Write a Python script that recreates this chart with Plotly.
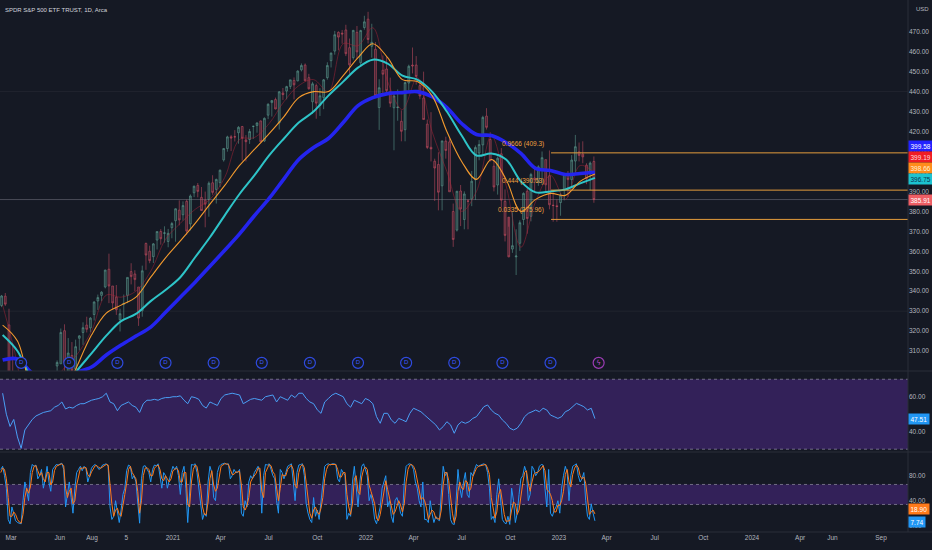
import pandas as pd
import plotly.graph_objects as go
from plotly.subplots import make_subplots

TITLE = 'SPDR S&P 500 ETF TRUST, 1D, Arca'

# weekly candles (Feb 2020 .. 10 Mar 2023)
wk_open = [
    # 2020
    332.8, 337.5, 323.1, 298.2, 288.0, 241.2, 231.0, 250.7, 257.8, 277.1, 279.1, 285.1, 280.7, 290.3, 293.1, 302.5,
    303.6, 320.2, 298.0, 307.8, 300.9, 316.4, 319.3, 323.0, 321.6, 328.3, 335.1, 337.9, 342.1, 351.0, 342.6, 337.0,
    325.7, 333.4, 337.9, 349.8, 348.6, 342.1, 330.2, 363.9, 360.0, 357.3, 365.6, 369.9, 369.0, 364.9, 371.8,
    # 2021
    375.3, 380.6, 378.3, 385.0, 373.7, 389.3, 393.0, 387.0, 385.6, 385.9, 394.3, 391.0, 394.4, 405.8, 411.5, 417.4,
    417.4, 419.4, 422.5, 415.8, 416.0, 422.6, 423.0, 425.3, 415.3, 428.2, 434.5, 436.0, 424.3, 439.3, 440.3, 442.6,
    445.6, 445.4, 450.9, 453.3, 447.0, 434.9, 443.0, 433.0, 437.0, 447.0, 455.5, 460.3, 469.7, 469.3, 470.9, 462.0,
    457.0, 469.7, 454.5, 472.1,
    # 2022
    476.3, 462.7, 461.2, 432.0, 450.7, 451.3, 439.9, 431.9, 432.0, 425.1, 420.9, 444.3, 453.3, 453.3, 443.0, 436.8,
    423.7, 412.1, 405.1, 403.5, 392.8, 415.2, 414.8, 379.9, 370.6, 390.2, 375.9, 385.2, 386.2, 395.8, 409.2, 413.3,
    427.7, 416.0, 402.6, 393.2, 408.8, 385.0, 377.1, 361.1, 357.2, 364.0, 375.9, 390.1, 377.5, 396.7, 394.6, 400.9,
    405.9, 397.8, 383.1, 382.8,
    # 2023
    384.4, 390.4, 398.5, 395.9, 405.2, 409.8, 408.7, 403.1, 399.9, 405.0,
]
wk_high = [
    338.1, 339.1, 331.2, 313.8, 290.4, 256.4, 263.3, 262.4, 281.2, 287.3, 285.0, 294.9, 293.0, 294.6, 298.1, 305.3,
    321.3, 323.4, 316.5, 314.5, 315.7, 318.0, 324.4, 327.2, 327.0, 334.9, 338.3, 340.0, 350.7, 358.8, 342.6, 343.1,
    331.2, 338.3, 347.0, 354.0, 350.5, 342.1, 352.8, 364.4, 362.8, 364.1, 369.9, 371.1, 372.5, 371.2, 374.7,
    381.5, 385.5, 385.0, 385.9, 388.5, 392.9, 394.2, 392.2, 389.9, 395.0, 398.1, 396.4, 401.0, 411.7, 417.9, 418.3,
    420.7, 422.7, 422.8, 418.2, 421.3, 422.9, 424.6, 425.5, 427.1, 434.1, 435.8, 437.0, 440.3, 441.8, 442.9, 445.9,
    447.1, 450.7, 454.1, 454.1, 448.9, 444.9, 444.0, 441.7, 446.3, 454.7, 459.6, 470.4, 470.2, 470.9, 473.5, 466.6,
    470.9, 472.9, 471.0, 478.0,
    479.98, 474.0, 464.8, 446.2, 458.1, 457.9, 447.0, 438.8, 441.1, 430.6, 445.0, 453.5, 462.1, 457.8, 446.0, 450.0,
    426.0, 429.7, 406.4, 409.6, 415.4, 417.4, 416.6, 383.9, 390.1, 393.2, 390.0, 386.1, 400.2, 413.0, 415.7, 427.9,
    431.7, 419.6, 405.9, 407.5, 411.7, 391.0, 372.3, 379.5, 371.0, 375.5, 389.5, 391.6, 399.3, 402.3, 403.1, 410.0,
    406.0, 410.5, 389.5, 386.0,
    389.3, 399.1, 400.2, 408.2, 418.3, 414.5, 415.1, 404.1, 405.0, 407.5,
]
wk_low = [
    332.0, 332.6, 285.5, 293.2, 240.0, 228.0, 218.3, 242.4, 255.9, 270.6, 271.2, 279.1, 276.0, 272.9, 292.2, 297.0,
    303.5, 296.7, 297.0, 300.0, 300.0, 310.3, 313.1, 319.3, 319.4, 325.3, 330.6, 335.0, 341.4, 334.0, 331.0, 328.1,
    319.8, 326.1, 334.0, 343.4, 340.0, 322.6, 327.2, 350.7, 354.0, 354.1, 360.9, 363.3, 364.3, 362.0, 366.5,
    364.8, 373.0, 375.4, 368.3, 370.4, 387.1, 387.0, 380.2, 372.0, 377.3, 388.3, 383.9, 392.2, 404.9, 409.9, 410.2,
    415.0, 413.9, 405.4, 405.0, 413.8, 416.3, 419.4, 414.7, 414.7, 426.2, 427.5, 431.1, 421.0, 435.8, 436.1, 441.3,
    436.1, 445.1, 450.1, 445.3, 441.0, 428.8, 426.4, 427.8, 431.2, 446.0, 452.1, 458.5, 460.7, 464.0, 457.8, 448.9,
    456.0, 456.4, 452.4, 471.0,
    464.1, 457.0, 437.8, 420.8, 439.2, 439.0, 432.2, 410.6, 425.4, 415.1, 415.1, 440.6, 449.1, 443.5, 436.2, 425.9,
    411.2, 405.0, 385.2, 380.5, 380.5, 406.4, 389.8, 362.2, 369.9, 372.6, 371.0, 371.0, 382.6, 385.7, 405.6, 408.5,
    421.0, 405.3, 390.0, 388.4, 382.1, 364.9, 357.0, 359.2, 348.1, 360.2, 373.1, 368.8, 375.0, 390.0, 392.8, 393.3,
    390.0, 381.0, 374.8, 374.8,
    377.8, 385.5, 387.3, 392.6, 399.6, 405.0, 404.1, 393.6, 390.6, 384.3,
]
wk_close = [
    337.6, 333.5, 296.3, 297.5, 269.3, 228.8, 253.4, 248.2, 278.2, 286.6, 282.9, 282.8, 292.4, 286.3, 295.4, 304.3,
    319.3, 304.2, 309.0, 300.1, 312.2, 317.6, 321.7, 320.9, 326.5, 334.6, 336.8, 339.5, 350.6, 342.6, 334.1, 330.7,
    328.7, 333.8, 346.9, 347.3, 345.8, 326.5, 350.2, 358.1, 355.3, 363.7, 369.9, 366.3, 369.2, 369.0, 373.9,
    381.3, 375.7, 382.9, 370.1, 387.7, 392.6, 390.0, 380.4, 383.6, 394.1, 389.5, 396.0, 400.6, 411.5, 417.3, 416.7,
    417.3, 422.1, 416.6, 414.9, 420.0, 422.6, 424.3, 414.9, 426.6, 433.7, 435.5, 431.3, 439.9, 438.5, 442.5, 445.9,
    443.4, 450.3, 453.1, 445.4, 441.4, 443.9, 434.2, 437.9, 445.9, 453.1, 459.3, 468.5, 467.3, 468.9, 459.0, 453.4,
    470.7, 459.9, 470.6, 474.96,
    466.1, 464.7, 437.98, 441.95, 448.7, 440.5, 434.2, 437.8, 432.2, 420.1, 444.5, 452.7, 452.9, 447.6, 437.8, 426.0,
    412.0, 411.3, 401.7, 389.6, 415.3, 410.5, 389.8, 365.9, 390.1, 381.2, 388.7, 385.1, 395.1, 411.99, 413.5, 427.1,
    422.1, 405.3, 392.2, 406.6, 385.6, 367.95, 357.2, 362.8, 357.6, 374.3, 389.0, 376.4, 398.5, 396.0, 402.3, 406.9,
    393.3, 383.3, 382.9, 382.4,
    388.1, 398.5, 395.9, 405.7, 412.4, 408.0, 407.3, 396.4, 404.2, 385.91,
]

# moving averages, read every 4 weeks
ma20 = [333, 303, 255, 283, 300, 308, 320, 338, 337, 340,
        350, 366, 374, 381, 386, 397, 416, 417, 424, 435,
        443, 446, 440, 464, 463, 472, 445, 431, 447, 420,
        400, 380, 390, 418, 393, 362, 385, 398, 386, 403, 399.19]
ma50 = [323, 315, 288, 275, 285, 302, 318, 329, 333, 337,
        347, 356.7, 365.2, 374, 383.6, 393, 403, 411, 419, 427.5,
        437, 440, 440, 448, 457, 464, 457, 446, 445, 438,
        420, 405, 396, 406, 396, 380, 386, 389, 388, 395, 398.66]
ma100 = [318, 310, 295, 285, 290, 300, 308.8, 317.7, 325, 328.6,
         335, 340.6, 347, 357, 367, 378, 388.7, 398, 408, 416.5,
         424.5, 430, 438, 445, 452, 456, 454, 448, 446, 440,
         430, 418, 408, 409, 406, 395, 389.5, 390, 391, 394, 396.75]
ma200 = [305.5, 306, 299, 297, 297.5, 299.5, 302, 308, 313, 317.5,
         322, 329.4, 337, 344.5, 352.5, 360.5, 368.7, 377.8, 386.5, 396.3,
         406, 412, 416.5, 424.5, 433, 437, 439, 439.5, 440, 437.5,
         432, 424, 418.5, 418, 414.5, 409, 401.5, 400.5, 398.5, 399, 399.58]

# RSI, one value per week
rsi = [62, 50, 43, 47, 37, 30.5, 41, 44, 47, 49,
       50, 51, 51.5, 52, 54, 55, 57, 53, 54, 53.5,
       55, 56, 56, 57, 58, 58.5, 59, 60, 62, 57,
       56, 52, 55, 56, 57, 55, 54, 51, 56, 58,
       58, 58.5, 58, 59, 59.5, 59.5, 60, 60, 60.5, 58,
       56, 60, 59.5, 58.5, 55, 53.5, 57, 56, 55, 59,
       61, 61.5, 62, 61.5, 61, 56, 57.5, 58.5, 59, 58.5,
       58, 60, 60.5, 61, 57, 60, 59, 58, 61, 59.5,
       62, 62, 59, 57, 56, 52.5, 50.5, 57, 59, 61,
       62, 61, 60, 56, 54, 58, 57, 56, 59, 58,
       56, 48.6, 44.8, 50.5, 50.5, 46.7, 44.8, 47.6, 46.7, 45.7,
       50.5, 53.4, 52.4, 51.4, 49.5, 47.6, 45.7, 43.9, 41, 42.9,
       45.7, 43.9, 39.1, 43.9, 45.7, 44.8, 45.7, 47.6, 48.6, 51.4,
       54.3, 55.3, 52.4, 50.5, 49.5, 46.7, 44.8, 42, 41, 42,
       44.8, 48.6, 50.5, 51.4, 52.4, 51.4, 53.4, 52.4, 49.5, 48.6,
       47.6, 48.6, 51.4, 52.4, 54.3, 56.2, 55.3, 54.3, 52.4, 53.4,
       47.51]

# stochastic %K / %D, two readings per week
stoch_k = [
    # 2020
    90, 95, 80, 60, 10, 3, 30, 20, 8, 5, 4, 3, 40, 70, 55, 40, 85, 98, 95, 97, 75, 80, 90, 60,
    75, 95, 70, 55, 90, 95, 98, 97, 99, 100, 90, 30, 50, 70, 45, 20, 60, 85, 90, 95, 88, 95, 92, 70,
    80, 92, 96, 98, 95, 90, 92, 97, 98, 99, 95, 30, 10, 15, 40, 20, 5, 25, 50, 60, 88, 97, 95, 75,
    80, 70, 30, 4, 75, 95, 96, 90, 85, 70, 90, 97, 96, 99, 80, 60, 85, 80, 60, 75, 85, 95,
    # 2021
    90, 95, 80, 50, 85, 95, 60, 5, 60, 98, 97, 99, 85, 60, 30, 10, 20, 15, 70, 95, 85, 45, 40, 85,
    95, 98, 99, 100, 98, 99, 75, 80, 90, 85, 85, 90, 20, 15, 40, 30, 70, 80, 75, 85, 90, 95, 85, 20,
    80, 98, 97, 99, 90, 80, 75, 40, 20, 90, 85, 75, 85, 95, 97, 99, 70, 40, 85, 97, 98, 99, 80, 35,
    20, 10, 5, 45, 15, 25, 10, 40, 65, 95, 98, 99, 97, 99, 99, 98, 75, 70, 90, 85, 80, 10, 20, 15,
    70, 95, 60, 30, 70, 95, 99, 90,
    # 2022
    80, 40, 50, 35, 10, 3, 15, 30, 60, 70, 80, 30, 40, 15, 5, 40, 45, 35, 20, 15, 70, 95, 98, 99,
    97, 90, 70, 60, 40, 30, 70, 10, 10, 5, 40, 20, 5, 15, 10, 8, 60, 95, 80, 85, 50, 10, 3, 2,
    40, 90, 60, 45, 70, 85, 50, 45, 85, 80, 90, 98, 95, 97, 98, 99, 97, 85, 60, 10, 15, 5, 50, 75,
    40, 10, 5, 3, 15, 2, 60, 40, 5, 20, 50, 75, 80, 95, 85, 40, 50, 95, 90, 80, 85, 95, 98, 97,
    60, 30, 90, 20, 15, 25, 30, 40,
    # 2023
    20, 60, 80, 95, 85, 40, 80, 95, 97, 99, 80, 70, 75, 85, 40, 15, 10, 35, 20, 7.74,
]
stoch_d = [
    # 2020
    85, 92, 90, 75, 45, 15, 15, 22, 18, 10, 6, 4, 18, 45, 60, 52, 62, 85, 95, 96, 88, 80, 85, 75,
    70, 85, 85, 65, 70, 88, 95, 97, 98, 99, 96, 60, 45, 55, 60, 35, 40, 65, 82, 92, 92, 92, 93, 82,
    78, 86, 92, 96, 96, 93, 92, 94, 96, 98, 97, 65, 35, 15, 25, 28, 18, 15, 30, 50, 68, 90, 95, 85,
    80, 75, 55, 20, 40, 80, 92, 93, 90, 80, 80, 92, 95, 97, 90, 75, 72, 80, 75, 70, 75, 88,
    # 2021
    90, 92, 88, 70, 70, 85, 85, 35, 30, 70, 90, 97, 95, 78, 60, 30, 18, 18, 38, 75, 88, 65, 55, 60,
    80, 95, 97, 99, 99, 98, 90, 82, 82, 86, 86, 87, 65, 30, 25, 32, 45, 70, 76, 80, 84, 92, 92, 55,
    45, 85, 92, 98, 96, 86, 82, 60, 40, 60, 82, 80, 80, 90, 94, 97, 90, 65, 60, 85, 95, 98, 93, 65,
    40, 20, 12, 25, 30, 22, 18, 28, 45, 75, 90, 97, 98, 98, 98, 98, 90, 78, 78, 85, 85, 50, 30, 18,
    35, 75, 80, 55, 50, 78, 90, 94,
    # 2022
    90, 65, 55, 45, 35, 12, 8, 18, 35, 58, 72, 58, 45, 30, 18, 22, 30, 40, 33, 22, 35, 70, 90, 97,
    98, 95, 88, 72, 58, 42, 45, 40, 28, 10, 18, 25, 22, 12, 12, 10, 25, 65, 85, 85, 72, 40, 20, 5,
    15, 55, 70, 60, 58, 72, 70, 55, 60, 78, 85, 92, 95, 96, 97, 98, 98, 92, 82, 45, 28, 12, 22, 50,
    58, 35, 18, 7, 8, 8, 25, 38, 35, 18, 25, 52, 68, 85, 88, 68, 55, 70, 82, 85, 85, 88, 93, 96,
    88, 58, 55, 50, 40, 22, 22, 33,
    # 2023
    32, 40, 55, 82, 90, 70, 62, 82, 92, 97, 93, 80, 75, 78, 68, 38, 18, 22, 25, 18.9,
]

# Fibonacci retracement drawn on the chart
fib_start = '2022-12-17'
fib_levels = ['0.9666', '0.444', '0.0335']
fib_prices = [409.3, 390.63, 375.96]

# dividend events
div_dates = ['2020-03-20', '2020-06-19', '2020-09-18', '2020-12-18', '2021-03-19', '2021-06-18',
             '2021-09-17', '2021-12-17', '2022-03-18', '2022-06-17', '2022-09-16', '2022-12-16']
next_div = ['2023-03-17']

# time axis labels
tick_dates = ['2020-03-01', '2020-06-01', '2020-08-01', '2020-10-05', '2021-01-01', '2021-04-01',
              '2021-07-01', '2021-10-01', '2022-01-01', '2022-04-01', '2022-07-01', '2022-10-01',
              '2023-01-01', '2023-04-01', '2023-07-01', '2023-10-01', '2024-01-01', '2024-04-01',
              '2024-06-01', '2024-09-01']
tick_text = ['Mar', 'Jun', 'Aug', '5', '2021', 'Apr', 'Jul', 'Oct', '2022', 'Apr', 'Jul', 'Oct',
             '2023', 'Apr', 'Jul', 'Oct', '2024', 'Apr', 'Jun', 'Sep']
price_ticks = list(range(310, 480, 10))

BG = '#151924'
GRID = '#2a2e39'
TXT = '#b2b5be'
FONT = 'Liberation Sans, Arial, sans-serif'
X_START, X_END = '2020-02-09', '2024-10-22'

n = min(len(wk_open), len(wk_high), len(wk_low), len(wk_close))
weeks = pd.date_range(end='2023-03-08', periods=n, freq='W-WED')


def ma_x(vals):
    return pd.date_range(end='2023-03-10', periods=len(vals), freq='28D')


fig = make_subplots(rows=3, cols=1, shared_xaxes=True, vertical_spacing=0, row_heights=[371, 81, 80])

fig.add_trace(go.Candlestick(
    x=weeks, open=wk_open[:n], high=wk_high[:n], low=wk_low[:n], close=wk_close[:n],
    increasing=dict(line=dict(color='rgba(95,160,148,0.55)', width=1), fillcolor='rgba(95,160,148,0.25)'),
    decreasing=dict(line=dict(color='rgba(200,78,98,0.55)', width=1), fillcolor='rgba(200,78,98,0.25)'),
    whiskerwidth=0, showlegend=False, hoverinfo='skip'), row=1, col=1)

for vals, color, width in [(ma20, 'rgba(170,35,55,0.5)', 1), (ma200, '#2424ee', 3.6),
                           (ma100, '#2ec4c8', 2), (ma50, '#f39a2e', 1.1)]:
    fig.add_trace(go.Scatter(x=ma_x(vals), y=vals, mode='lines', showlegend=False, hoverinfo='skip',
                             line=dict(color=color, width=width, shape='spline', smoothing=1.0)),
                  row=1, col=1)

fig.add_trace(go.Scatter(x=pd.date_range(end='2023-03-10', periods=len(rsi), freq='W-FRI'), y=rsi,
                         mode='lines', line=dict(color='#4a9ff5', width=1), showlegend=False,
                         hoverinfo='skip'), row=2, col=1)

for vals, color in [(stoch_k, '#2196f3'), (stoch_d, '#ff7a1a')]:
    fig.add_trace(go.Scatter(x=pd.date_range(end='2023-03-10', periods=len(vals), freq='84h'), y=vals,
                             mode='lines', line=dict(color=color, width=1), showlegend=False,
                             hoverinfo='skip'), row=3, col=1)

# event markers on an overlay axis at the bottom of the price pane
fig.add_trace(go.Scatter(x=div_dates, y=[0.022] * len(div_dates), xaxis='x', yaxis='y4',
                         mode='markers+text', text=['D'] * len(div_dates), textposition='middle center',
                         textfont=dict(size=6, color='#3d5afe', family=FONT),
                         marker=dict(size=11, color=BG, line=dict(color='#2f4be0', width=1.2)),
                         showlegend=False, hoverinfo='skip'))
fig.add_trace(go.Scatter(x=next_div, y=[0.022], xaxis='x', yaxis='y4',
                         mode='markers+text', text=['ϟ'], textposition='middle center',
                         textfont=dict(size=7, color='#c04fd0', family='DejaVu Sans'),
                         marker=dict(size=11, color=BG, line=dict(color='#9c3cb4', width=1.2)),
                         showlegend=False, hoverinfo='skip'))

shapes = []
# faint horizontal guides + last price line
for lvl, col in [(440, 'rgba(255,255,255,0.05)'), (330, 'rgba(255,255,255,0.05)'),
                 (wk_close[-1], 'rgba(170,170,180,0.35)')]:
    shapes.append(dict(type='line', xref='paper', x0=0, x1=1, yref='y', y0=lvl, y1=lvl,
                       line=dict(color=col, width=1), layer='below'))
# fib lines
for p in fib_prices:
    shapes.append(dict(type='line', xref='x', x0=fib_start, x1=X_END, yref='y', y0=p, y1=p,
                       line=dict(color='#e39b3c', width=1)))
# RSI band
shapes.append(dict(type='rect', xref='paper', x0=0, x1=1, yref='y2', y0=30, y1=70,
                   fillcolor='rgba(110,50,190,0.35)', line=dict(width=0), layer='below'))
for lvl in (30, 70):
    shapes.append(dict(type='line', xref='paper', x0=0, x1=1, yref='y2', y0=lvl, y1=lvl,
                       line=dict(color='rgba(190,190,205,0.5)', width=1, dash='dot'), layer='below'))
# stoch band
shapes.append(dict(type='rect', xref='paper', x0=0, x1=1, yref='y3', y0=34, y1=66,
                   fillcolor='rgba(110,50,190,0.35)', line=dict(width=0), layer='below'))
for lvl in (34, 66):
    shapes.append(dict(type='line', xref='paper', x0=0, x1=1, yref='y3', y0=lvl, y1=lvl,
                       line=dict(color='rgba(190,190,205,0.5)', width=1, dash='dot'), layer='below'))
# pane separators and price scale border
for yy in (1 - 371 / 532, 1 - 452 / 532, 0):
    shapes.append(dict(type='line', xref='paper', x0=0, x1=1.03, yref='paper', y0=yy, y1=yy,
                       line=dict(color=GRID, width=1)))
shapes.append(dict(type='line', xref='paper', x0=1, x1=1, yref='paper', y0=0, y1=1,
                   line=dict(color=GRID, width=1)))

ann = [dict(text=TITLE, xref='paper', yref='paper', x=0, y=1, xanchor='left', yanchor='top',
            xshift=3, yshift=-5, showarrow=False, font=dict(size=6, color='#d1d4dc', family=FONT)),
       dict(text='USD', xref='paper', yref='paper', x=1, y=1, xanchor='left', yanchor='top',
            xshift=6, yshift=-4, showarrow=False, font=dict(size=6, color=TXT, family=FONT))]

for lvl, p in zip(fib_levels, fib_prices):
    ann.append(dict(text=f'{lvl} ({p})', xref='x', x=fib_start, yref='y', y=p, xanchor='right',
                    yanchor='bottom', xshift=-5, yshift=3, showarrow=False,
                    font=dict(size=6.5, color='#f0a040', family=FONT)))

# last-value tags on the price scales
tags = [('y', ma200[-1], '#2222ff', 'white', 26),
        ('y', ma20[-1], '#f01c24', '#ffd8d8', 16),
        ('y', ma50[-1], '#ff8c1a', '#fff0d8', 6),
        ('y', ma100[-1], '#1cc3d0', '#0a3550', -1),
        ('y', wk_close[-1], '#ef5e64', 'white', 0),
        ('y2', rsi[-1], '#2196f3', 'white', 0),
        ('y3', stoch_d[-1], '#ff7a1a', 'white', 5),
        ('y3', stoch_k[-1], '#2196f3', 'white', -1)]
for yref, v, bg, fc, shift in tags:
    ann.append(dict(text=f'{v:.2f}', xref='paper', x=1, yref=yref, y=v, xanchor='left', yanchor='middle',
                    xshift=0, yshift=shift, showarrow=False, bgcolor=bg, borderpad=1.5,
                    font=dict(size=6.5, color=fc, family=FONT)))

axfont = dict(size=6.5, color=TXT, family=FONT)
fig.update_xaxes(range=[X_START, X_END], showgrid=False, zeroline=False, showline=False,
                 rangeslider_visible=False, showticklabels=False, ticks='')
fig.update_xaxes(showticklabels=True, tickvals=tick_dates, ticktext=tick_text, tickfont=axfont,
                 row=3, col=1)
fig.update_yaxes(side='right', showgrid=False, zeroline=False, showline=False, ticks='', tickfont=axfont)
fig.update_yaxes(range=[300, 485.9], tickvals=price_ticks, ticktext=[f'{v:.2f}' for v in price_ticks],
                 row=1, col=1)
fig.update_yaxes(range=[28.4, 74.7], tickvals=[40, 60], ticktext=['40.00', '60.00'], row=2, col=1)
fig.update_yaxes(range=[-10.1, 117.9], tickvals=[0, 40, 80], ticktext=['0.00', '40.00', '80.00'], row=3, col=1)

fig.update_layout(
    width=932, height=550, margin=dict(l=0, r=24, t=0, b=18),
    paper_bgcolor=BG, plot_bgcolor=BG, showlegend=False,
    shapes=shapes, annotations=ann, hovermode=False,
    yaxis4=dict(overlaying='y', range=[0, 1], visible=False, fixedrange=True),
)

# page body has a default margin; drop it so the figure fills the window
fig.write_html('out.html', config={'displayModeBar': False},
               post_script="document.body.style.margin='0';")
